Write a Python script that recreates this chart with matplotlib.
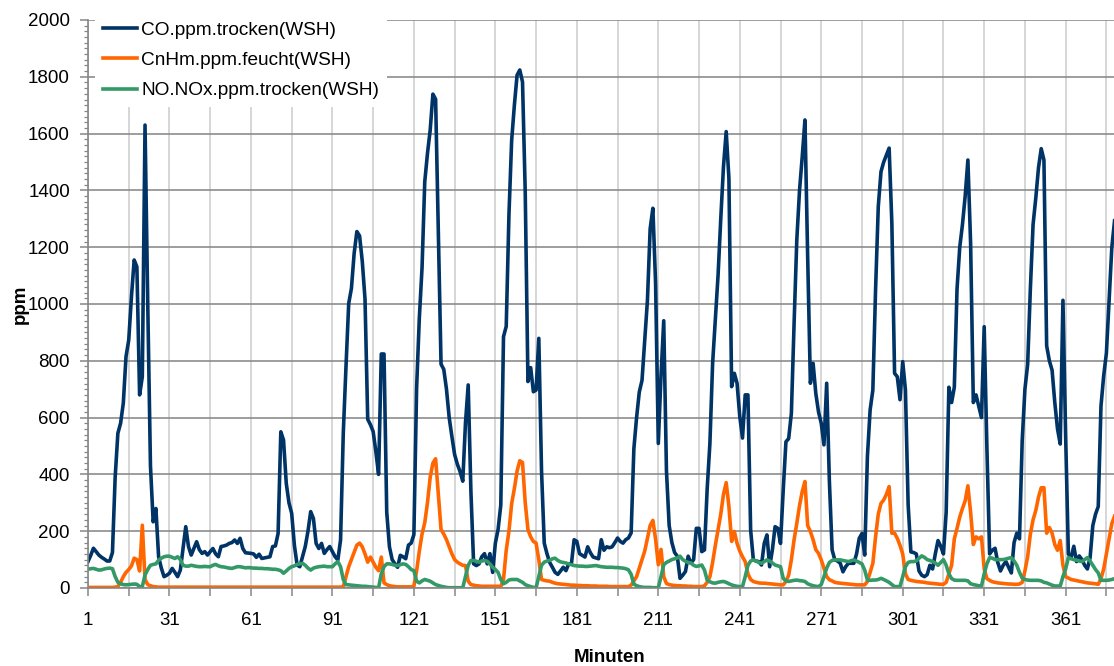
import numpy as np
import matplotlib
matplotlib.use("Agg")
import matplotlib.pyplot as plt
from matplotlib.ticker import MultipleLocator, FixedLocator

plt.rcParams['font.family'] = ['Liberation Sans', 'DejaVu Sans']

# one value per minute
co = [93, 115, 140, 128, 116, 108, 102, 95, 95, 125, 390, 545, 580, 651, 815,
      873, 1026, 1155, 1131, 680, 744, 1630, 1000, 430, 233, 280, 110, 70, 40, 45,
      52, 69, 55, 40, 63, 140, 216, 146, 116, 140, 163, 135, 122, 128, 116,
      128, 139, 120, 110, 146, 148, 151, 157, 160, 169, 157, 175, 139, 124, 123,
      122, 120, 108, 119, 104, 106, 108, 110, 146, 148, 192, 550, 521, 369, 300,
      263, 150, 81, 75, 110, 146, 200, 269, 245, 157, 139, 157, 122, 135, 146,
      128, 110, 99, 169, 545, 780, 1002, 1055, 1178, 1255, 1240, 1150, 1018, 594, 575,
      551, 480, 400, 824, 824, 267, 145, 100, 85, 73, 115, 110, 103, 151, 158,
      188, 703, 950, 1127, 1430, 1530, 1612, 1739, 1721, 1250, 788, 770, 700, 600, 533,
      470, 436, 410, 376, 582, 715, 339, 85, 79, 85, 110, 121, 85, 121, 55,
      158, 206, 292, 885, 921, 1313, 1576, 1700, 1806, 1824, 1782, 1394, 727, 776, 691,
      697, 879, 413, 158, 121, 90, 73, 55, 48, 60, 73, 61, 85, 85, 170,
      164, 121, 115, 109, 145, 124, 109, 106, 103, 170, 133, 145, 142, 145, 160,
      176, 164, 158, 170, 176, 194, 490, 600, 690, 731, 870, 1013, 1265, 1337, 1073,
      509, 749, 941, 413, 220, 160, 125, 112, 34, 45, 58, 112, 88, 100, 210,
      210, 128, 134, 350, 509, 791, 944, 1100, 1300, 1484, 1607, 1442, 709, 756, 721,
      604, 528, 680, 680, 204, 99, 95, 93, 81, 157, 187, 75, 134, 216, 210,
      157, 345, 515, 526, 615, 932, 1226, 1400, 1519, 1648, 1166, 721, 791, 685, 620,
      580, 504, 721, 375, 134, 99, 95, 87, 57, 75, 87, 87, 87, 120, 175,
      192, 116, 463, 627, 697, 1049, 1343, 1466, 1500, 1525, 1549, 1284, 756, 744, 663,
      797, 697, 293, 127, 125, 120, 60, 45, 40, 47, 80, 67, 120, 167, 147,
      120, 267, 707, 653, 707, 1053, 1200, 1280, 1380, 1507, 1213, 653, 680, 640, 600,
      920, 493, 120, 133, 140, 90, 60, 80, 93, 73, 53, 160, 193, 173, 520,
      700, 787, 1053, 1280, 1373, 1480, 1547, 1507, 853, 800, 767, 653, 560, 507, 1013,
      533, 120, 107, 147, 93, 113, 100, 80, 67, 107, 220, 260, 287, 640, 747,
      827, 1013, 1200, 1293]

cnhm = [2, 2, 2, 2, 2, 2, 2, 2, 2, 2, 3, 5, 20, 40, 55,
        65, 78, 105, 100, 60, 221, 30, 12, 8, 5, 4, 3, 3, 3, 3,
        3, 3, 3, 3, 3, 3, 3, 3, 3, 3, 3, 3, 3, 3, 3,
        3, 3, 3, 3, 3, 3, 3, 3, 3, 3, 3, 3, 3, 3, 3,
        3, 3, 3, 3, 3, 3, 3, 3, 3, 3, 3, 3, 3, 3, 3,
        3, 3, 3, 3, 3, 3, 3, 3, 3, 3, 3, 3, 3, 3, 3,
        3, 3, 3, 3, 5, 40, 75, 100, 125, 151, 158, 145, 120, 91, 109,
        91, 73, 61, 109, 18, 12, 8, 6, 5, 4, 4, 4, 4, 4, 4,
        6, 60, 130, 190, 230, 300, 390, 440, 455, 330, 206, 190, 170, 145, 120,
        100, 91, 85, 80, 79, 24, 12, 10, 8, 7, 6, 6, 6, 6, 6,
        6, 6, 5, 30, 133, 200, 297, 350, 412, 448, 442, 300, 206, 180, 164,
        158, 100, 30, 27, 25, 24, 20, 17, 15, 14, 13, 12, 11, 10, 10,
        9, 9, 8, 8, 8, 7, 7, 7, 6, 6, 6, 6, 5, 5, 5,
        5, 5, 5, 5, 5, 10, 25, 40, 70, 100, 130, 175, 220, 238, 172,
        82, 136, 40, 16, 12, 10, 9, 8, 8, 7, 7, 6, 6, 5, 5,
        5, 5, 8, 20, 40, 90, 150, 204, 260, 330, 371, 287, 164, 199, 157,
        130, 110, 93, 50, 30, 23, 20, 18, 17, 17, 16, 15, 14, 13, 12,
        11, 11, 23, 45, 100, 170, 228, 290, 340, 375, 220, 199, 170, 135, 122,
        99, 70, 40, 29, 25, 20, 18, 17, 16, 15, 14, 13, 12, 11, 11,
        11, 11, 23, 55, 87, 180, 260, 298, 310, 330, 357, 193, 193, 175, 150,
        120, 50, 30, 27, 25, 23, 22, 21, 20, 18, 17, 16, 15, 14, 13,
        13, 20, 50, 80, 173, 210, 250, 280, 307, 360, 267, 153, 180, 173, 180,
        67, 33, 27, 22, 20, 18, 17, 16, 15, 14, 14, 13, 13, 14, 20,
        60, 110, 190, 240, 273, 320, 353, 353, 193, 213, 193, 153, 133, 167, 80,
        40, 35, 30, 28, 26, 24, 22, 20, 18, 17, 16, 15, 13, 33, 67,
        120, 173, 227, 253]

nox = [66, 68, 69, 66, 63, 64, 67, 69, 70, 68, 40, 20, 15, 12, 11,
       12, 13, 14, 13, 5, 5, 46, 65, 80, 83, 85, 98, 105, 110, 112,
       112, 108, 104, 110, 100, 80, 77, 77, 80, 78, 76, 75, 75, 76, 75,
       75, 80, 83, 78, 75, 74, 72, 70, 69, 72, 75, 75, 73, 71, 72,
       71, 70, 70, 69, 69, 68, 68, 67, 66, 66, 64, 61, 52, 60, 69,
       75, 78, 83, 85, 87, 80, 70, 63, 70, 73, 75, 76, 77, 75, 75,
       75, 85, 93, 75, 30, 12, 11, 10, 9, 8, 7, 6, 6, 5, 4,
       3, 2, 1, 50, 75, 85, 85, 83, 80, 79, 82, 85, 83, 75, 65,
       61, 24, 18, 25, 30, 27, 24, 18, 12, 9, 6, 4, 2, 1, 1,
       1, 1, 1, 1, 40, 80, 97, 97, 94, 91, 95, 97, 94, 85, 73,
       65, 55, 30, 15, 20, 28, 30, 30, 30, 25, 20, 12, 8, 5, 2,
       1, 40, 80, 91, 95, 97, 103, 105, 97, 92, 90, 88, 85, 82, 79,
       78, 77, 77, 76, 76, 77, 78, 79, 77, 75, 74, 73, 73, 73, 72,
       72, 71, 70, 68, 64, 48, 14, 8, 5, 3, 2, 2, 2, 1, 1,
       1, 40, 82, 90, 95, 100, 103, 106, 112, 100, 94, 90, 88, 80, 76,
       78, 81, 63, 28, 22, 18, 17, 20, 22, 23, 20, 15, 11, 8, 6,
       5, 5, 40, 80, 95, 99, 95, 90, 87, 93, 99, 95, 88, 81, 78,
       75, 34, 25, 23, 25, 27, 28, 26, 25, 23, 15, 11, 8, 6, 5,
       12, 40, 70, 90, 97, 99, 99, 99, 97, 95, 93, 96, 99, 95, 90,
       85, 63, 28, 27, 28, 28, 30, 34, 30, 25, 20, 12, 5, 5, 5,
       40, 75, 90, 93, 93, 95, 105, 113, 108, 100, 97, 93, 88, 80, 90,
       100, 80, 50, 33, 28, 27, 27, 27, 27, 25, 15, 12, 10, 8, 7,
       50, 85, 107, 105, 100, 100, 100, 100, 102, 105, 107, 95, 80, 55, 35,
       30, 28, 27, 27, 27, 27, 25, 20, 18, 14, 10, 7, 7, 7, 40,
       67, 107, 103, 100, 98, 95, 93, 100, 107, 95, 80, 65, 53, 27, 27,
       27, 28, 30, 33]

series_names = ['CO.ppm.trocken(WSH)', 'CnHm.ppm.feucht(WSH)', 'NO.NOx.ppm.trocken(WSH)']
series_colors = ['#003366', '#ff6600', '#339966']

minutes = np.arange(1, len(co) + 1)

W, H = 1114, 666
fig = plt.figure(figsize=(W / 100, H / 100), dpi=100)
# plot area in pixels: left 88, right 1114, top 20, bottom 588
ax = fig.add_axes([88 / W, 1 - 588 / H, (W - 88) / W, (588 - 20) / H])

for vals, name, col in zip([co, cnhm, nox], series_names, series_colors):
    ax.plot(minutes, vals, color=col, lw=2.6, label=name, solid_joinstyle='round')

ax.set_xlim(1, 378.8)
ax.set_ylim(0, 2000)

xt = list(range(1, 378, 15))
ax.xaxis.set_major_locator(FixedLocator(xt))
ax.set_xticklabels([str(t) if (t - 1) % 30 == 0 else '' for t in xt])
ax.yaxis.set_major_locator(MultipleLocator(200))
ax.yaxis.set_minor_locator(MultipleLocator(20))

ax.grid(axis='y', which='major', color='#8c8c8c', lw=1.2, zorder=0)
ax.grid(axis='x', which='major', color='#d0d0d0', lw=1.2, zorder=0)
ax.set_axisbelow(True)

for s in ['top', 'right']:
    ax.spines[s].set_visible(False)
for s in ['left', 'bottom']:
    ax.spines[s].set_color('#868686')
    ax.spines[s].set_linewidth(1.2)

ax.tick_params(axis='both', which='major', direction='out', length=6, width=1.1,
               color='#868686', labelsize=13.5, labelcolor='black')
ax.tick_params(axis='y', which='minor', direction='out', length=3, width=0.9, color='#868686')
ax.tick_params(axis='x', pad=11)
ax.tick_params(axis='y', pad=7)

ax.set_ylabel('ppm', fontsize=13.5, fontweight='bold', va='center')
ax.yaxis.set_label_coords((20 - 88) / 1026, 0.5)
ax.set_xlabel('Minuten', fontsize=13.5, fontweight='bold', va='center')
ax.xaxis.set_label_coords((610 - 88) / 1026, (588 - 657) / 568)

leg = ax.legend(loc='upper left', bbox_to_anchor=(0.0073, 1.011), borderaxespad=0,
                frameon=True, fancybox=False, framealpha=1, edgecolor='none',
                facecolor='white', fontsize=13.7, handlelength=1.8, handletextpad=0.2,
                labelspacing=0.68, borderpad=0.4)
leg.set_zorder(5)

fig.savefig('out.png', dpi=100)
